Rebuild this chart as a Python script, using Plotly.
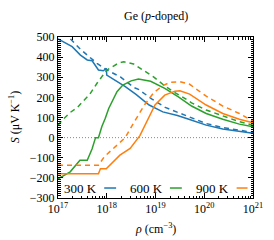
import numpy as np
import plotly.graph_objects as go

# ---------------- data (log10 of carrier density, Seebeck in uV/K) ----------------
temps = ["300 K", "600 K", "900 K"]
colors = ["#1f77b4", "#2ca02c", "#ff7f0e"]

log_rho_300_solid = [17.0, 17.29, 17.46, 17.6, 17.7, 17.83, 17.93, 17.99, 18.0, 18.28, 18.38, 18.6, 18.87, 19.15, 19.45, 19.7, 19.87, 20.04, 20.38, 20.7, 21.0]
S_300_solid = [490, 452, 410, 386, 382, 336, 332, 344, 311, 271, 253, 215, 162, 128, 110, 90, 76, 62, 43, 32, 22]

log_rho_300_dash = [17.0, 17.22, 17.46, 17.8, 18.0, 18.28, 18.55, 18.65, 18.92, 19.2, 19.45, 19.7, 19.87, 20.04, 20.38, 20.7, 21.0]
S_300_dash = [555, 500, 439, 369, 336, 302, 250, 240, 193, 150, 125, 102, 84, 70, 50, 38, 26]

log_rho_600_solid = [17.0, 17.25, 17.45, 17.6, 17.7, 17.77, 17.83, 17.9, 17.97, 18.04, 18.21, 18.33, 18.5, 18.65, 18.9, 19.19, 19.47, 19.74, 20.04, 20.38, 20.72, 21.0]
S_600_solid = [-205, -170, -112, -112, -55, 0, 0, 55, 96, 145, 228, 261, 282, 291, 280, 245, 203, 157, 120, 91, 67, 54]

log_rho_600_dash = [17.0, 17.1, 17.25, 17.4, 17.55, 17.65, 17.8, 18.0, 18.24, 18.35, 18.55, 18.75, 18.96, 19.17, 19.37, 19.6, 19.74, 20.04, 20.38, 20.72, 21.0]
S_600_dash = [62, 90, 125, 150, 190, 215, 270, 336, 370, 377, 366, 336, 302, 261, 228, 195, 173, 137, 107, 79, 62]

log_rho_900_solid = [17.0, 17.83, 17.87, 17.99, 18.27, 18.48, 18.68, 18.75, 18.89, 18.99, 19.19, 19.4, 19.5, 19.7, 20.04, 20.38, 20.72, 21.0]
S_900_solid = [-180, -180, -155, -155, -87, -54, 10, 46, 112, 162, 211, 231, 233, 216, 162, 120, 91, 74]

log_rho_900_dash = [17.0, 17.83, 17.95, 18.1, 18.25, 18.38, 18.52, 18.65, 18.78, 18.97, 19.15, 19.3, 19.5, 19.7, 19.87, 20.04, 20.38, 20.72, 21.0]
S_900_dash = [-137, -137, -95, -62, -30, 0, 60, 115, 165, 225, 258, 275, 278, 265, 235, 206, 157, 120, 82]

x_tick_exps = [17, 18, 19, 20, 21]
x_tick_text = ["10<sup>17</sup>", "10<sup>18</sup>", "10<sup>19</sup>", "10<sup>20</sup>", "10<sup>21</sup>"]
y_range = [-300, 500]

series = [
    (log_rho_300_solid, S_300_solid, 0, "solid"),
    (log_rho_300_dash, S_300_dash, 0, "dash"),
    (log_rho_600_solid, S_600_solid, 1, "solid"),
    (log_rho_600_dash, S_600_dash, 1, "dash"),
    (log_rho_900_solid, S_900_solid, 2, "solid"),
    (log_rho_900_dash, S_900_dash, 2, "dash"),
]

FONT = "Liberation Serif"
fig = go.Figure()

# zero reference line
fig.add_trace(go.Scatter(x=[10.0 ** x_tick_exps[0], 10.0 ** x_tick_exps[-1]], y=[0, 0], mode="lines",
                         line=dict(color="#888888", width=1, dash="1px,2px"), showlegend=False,
                         hoverinfo="skip"))

for lr, s, ci, style in series:
    fig.add_trace(go.Scatter(
        x=np.power(10.0, lr), y=s, mode="lines",
        line=dict(color=colors[ci], width=1.5, dash=("solid" if style == "solid" else "5px,4px")),
        showlegend=False))

# legend as text followed by line sample (as in reference)
text_x = [0.023, 0.36, 0.696]
line_x = [(0.237, 0.298), (0.574, 0.635), (0.916, 0.972)]
for i, t in enumerate(temps):
    fig.add_annotation(x=text_x[i], y=0.062, xref="paper", yref="paper", text=t, showarrow=False,
                       xanchor="left", yanchor="middle", font=dict(family=FONT, size=13, color="black"))
    fig.add_shape(type="line", xref="paper", yref="paper", x0=line_x[i][0], x1=line_x[i][1],
                  y0=0.062, y1=0.062, line=dict(color=colors[i], width=1.5))

# axis titles
fig.add_annotation(x=-0.222, y=0.5, xref="paper", yref="paper", text="<i>S</i> (μV K<sup>−1</sup>)",
                   textangle=-90, showarrow=False, xanchor="center", yanchor="middle",
                   font=dict(family=FONT, size=12, color="black"))
fig.add_annotation(x=0.5, y=-0.19, xref="paper", yref="paper", text="<i>ρ</i> (cm<sup>−3</sup>)",
                   showarrow=False, xanchor="center", yanchor="middle",
                   font=dict(family=FONT, size=12, color="black"))
fig.add_annotation(x=0.5, y=1.13, xref="paper", yref="paper", text="Ge (<i>p</i>-doped)",
                   showarrow=False, xanchor="center", yanchor="middle",
                   font=dict(family=FONT, size=12, color="black"))

fig.update_layout(
    width=274, height=240,
    margin=dict(l=57.5, r=20.5, t=37, b=42),
    paper_bgcolor="white", plot_bgcolor="white",
    font=dict(family=FONT, size=12, color="black"),
    xaxis=dict(type="log", range=[x_tick_exps[0], x_tick_exps[-1]],
               tickvals=[10.0 ** e for e in x_tick_exps], ticktext=x_tick_text,
               ticks="inside", ticklen=5, tickcolor="black", showline=True, linecolor="black",
               linewidth=1, mirror="allticks", showgrid=False, zeroline=False,
               minor=dict(ticks="inside", ticklen=2.5, tickcolor="black", dtick="D1", showgrid=False),
               tickfont=dict(family=FONT, size=12)),
    yaxis=dict(range=y_range, dtick=100, ticks="inside", ticklen=5, tickcolor="black",
               showline=True, linecolor="black", linewidth=1, mirror="allticks",
               showgrid=False, zeroline=False,
               minor=dict(ticks="inside", ticklen=2.5, tickcolor="black", dtick=10, showgrid=False),
               tickfont=dict(family=FONT, size=12)),
)

fig.write_html("out.html", config={"displayModeBar": False},
               post_script="document.body.style.margin='0';document.body.style.overflow='hidden';")
